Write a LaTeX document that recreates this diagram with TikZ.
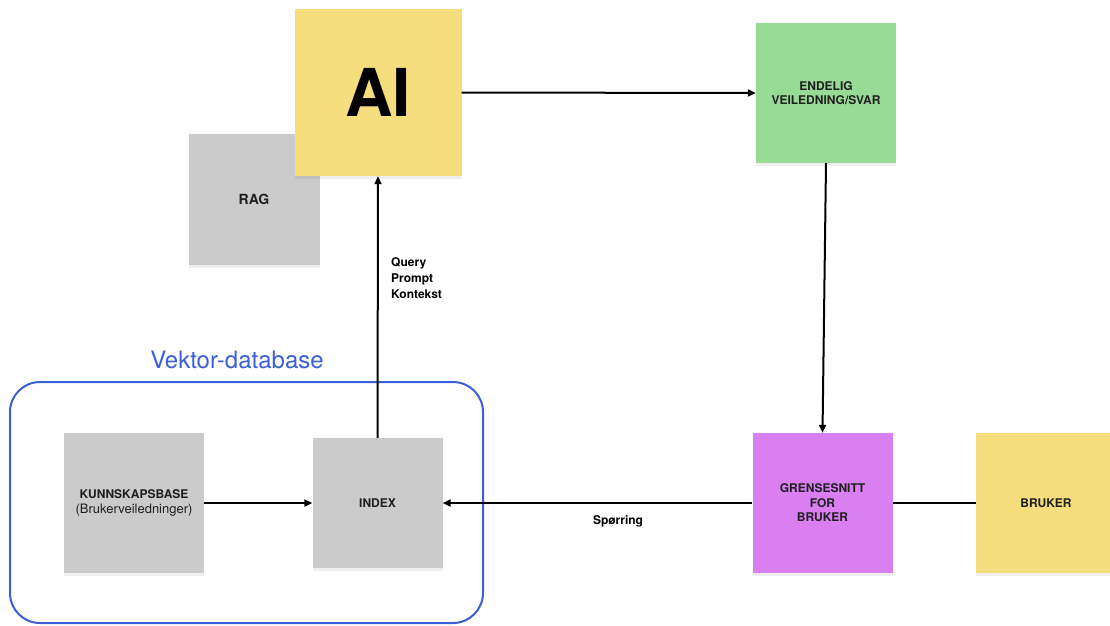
\documentclass[tikz,border=0pt]{standalone}
\usepackage{fontspec}
\setmainfont{TeX Gyre Heros}
\usetikzlibrary{arrows.meta,shadows}
\definecolor{noteyellow}{HTML}{F6DE7E}
\definecolor{notegrey}{HTML}{CBCBCB}
\definecolor{notegreen}{HTML}{98DB96}
\definecolor{notepurple}{HTML}{D97FF1}
\definecolor{dbblue}{HTML}{3B5FD6}
\tikzset{
  note/.style={rectangle, inner sep=0pt, minimum width=#1, minimum height=#1,
    align=center, font=\fontsize{12}{14.5}\selectfont\bfseries, text=black!88,
    drop shadow={shadow xshift=0pt, shadow yshift=-3pt, opacity=0.12}},
  note/.default=140pt,
  flow/.style={line width=2pt, -{Triangle[length=8pt,width=7pt]}},
  plainline/.style={line width=2pt},
  lbl/.style={font=\fontsize{12}{16}\selectfont\bfseries, align=left, inner sep=0pt}
}
\begin{document}
\begin{tikzpicture}[x=1pt,y=-1pt]
\useasboundingbox[fill=white] (0,0) rectangle (1110,625);

% vector database frame
\draw[dbblue, line width=2pt, rounded corners=30pt] (10,382) rectangle (483,623);
\node[text=dbblue, font=\fontsize{24}{28}\selectfont, inner sep=0pt] (dbtitle) at (237,360) {Vektor-database};

% notes
\node[note=131pt, fill=notegrey, font=\fontsize{14}{16}\selectfont\bfseries] (rag) at (254,199) {RAG};
\node[note=167pt, fill=noteyellow, font=\fontsize{66}{70}\selectfont\bfseries, text=black] (ai) at (378,92.5) {AI};
\node[note, fill=notegreen] (svar) at (826,93) {ENDELIG\\VEILEDNING/SVAR};
\node[note, fill=notepurple] (ui) at (822.5,503) {GRENSESNITT\\FOR\\BRUKER};
\node[note, fill=noteyellow] (user) at (1046,503) {BRUKER};
\node[note, fill=notegrey] (kb) at (134,503) {KUNNSKAPSBASE\\{\fontsize{13}{15}\selectfont\mdseries(Brukerveiledninger)}};
\node[note=130pt, fill=notegrey] (index) at (377.5,503) {INDEX};

% connectors
\draw[flow] (ai.east) -- (svar.west);
\draw[flow] (svar.south) -- (ui.north);
\draw[flow] (ui.west) -- (index.east);
\draw[plainline] (user.west) -- (ui.east);
\draw[flow] (kb.east) -- (index.west);
\draw[flow] (index.north) -- (ai.south);

% labels
\node[lbl, anchor=north west] (ctx) at (391,257) {Query\\Prompt\\Kontekst};
\node[lbl] (query) at (618,521) {Spørring};
\end{tikzpicture}
\end{document}
